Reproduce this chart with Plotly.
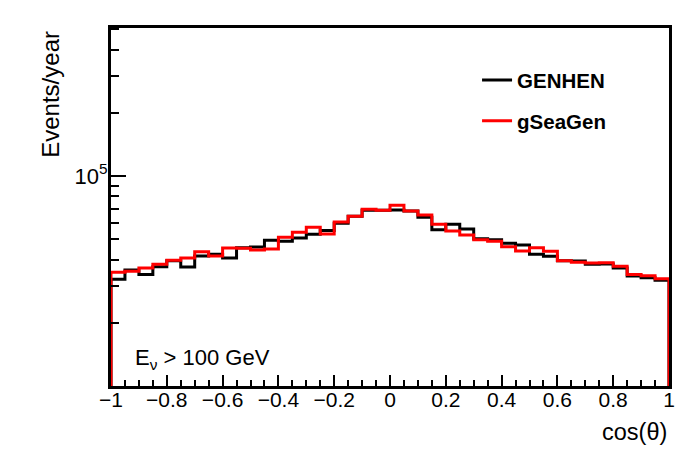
import plotly.graph_objects as go

# 40 bins in cos(theta) from -1 to 1
bin_edges = [-1 + 0.05 * i for i in range(41)]

genhen = [32200, 35700, 34000, 37000, 39500, 36900, 41600, 42400, 40700, 45600,
          45900, 49400, 48900, 50700, 52800, 55100, 59500, 64300, 68700, 68700,
          68900, 68100, 63600, 55500, 58900, 55900, 50300, 49700, 47800, 46900,
          42400, 41500, 39500, 39400, 38000, 38100, 36500, 33400, 32800, 31900]

gseagen = [34800, 35200, 36500, 38000, 39700, 40700, 43600, 41600, 45400, 45300,
           44400, 44900, 51100, 54000, 57000, 52900, 60400, 64300, 69400, 68700,
           72500, 68100, 65200, 58900, 54700, 52400, 49700, 48900, 46100, 43900,
           45600, 43800, 39500, 38800, 38500, 38600, 37200, 34000, 33500, 32400]

series_names = ["GENHEN", "gSeaGen"]
series_colors = ["#000000", "#ff0000"]

x_tick_vals = [-1, -0.8, -0.6, -0.4, -0.2, 0, 0.2, 0.4, 0.6, 0.8, 1]
x_tick_text = ["\u22121", "\u22120.8", "\u22120.6", "\u22120.4", "\u22120.2", "0",
               "0.2", "0.4", "0.6", "0.8", "1"]
y_tick_vals = [1e4, 1e5]
y_tick_text = ["", "10<sup>5</sup>"]
y_minor_vals = [k * 1e4 for k in range(2, 10)] + [k * 1e5 for k in range(2, 6)]

FLOOR = 1.0  # histogram drawn down from "zero" (clipped by the axis)


def step_xy(values):
    xs = [bin_edges[0]] + bin_edges + [bin_edges[-1]]
    ys = [FLOOR] + list(values) + [values[-1], FLOOR]
    return xs, ys


fig = go.Figure()
for name, vals, col in zip(series_names, [genhen, gseagen], series_colors):
    xs, ys = step_xy(vals)
    fig.add_trace(go.Scatter(
        x=xs, y=ys, mode="lines", name=name, legendgroup=name,
        line=dict(color=col, width=3, shape="hv"),
    ))

FONT = "Liberation Sans, Arial, Helvetica, sans-serif"

# the page body adds an 8 px offset, so the figure is drawn 8 px smaller
fig.update_layout(
    width=690, height=441,
    margin=dict(l=103, r=29, t=20, b=63),
    paper_bgcolor="white", plot_bgcolor="white",
    font=dict(family=FONT, size=20, color="black"),
    showlegend=True,
    legend=dict(
        x=0.656, y=0.91, xanchor="left", yanchor="top",
        bgcolor="rgba(0,0,0,0)", borderwidth=0,
        font=dict(family=FONT, size=20.5, color="black", weight="bold"),
        tracegroupgap=11,
    ),
    xaxis=dict(
        range=[-1, 1], showgrid=False, zeroline=False,
        showline=True, linecolor="black", linewidth=3, mirror=True,
        tickmode="array", tickvals=x_tick_vals, ticktext=x_tick_text,
        ticks="inside", ticklen=11, tickwidth=1.5, tickcolor="black",
        minor=dict(dtick=0.05, tick0=-1, ticks="inside", ticklen=6,
                   tickwidth=1.5, tickcolor="black"),
        tickfont=dict(family=FONT, size=21),
        ticklabelstandoff=-7,
    ),
    yaxis=dict(
        type="log", range=[4, 5.705], showgrid=False, zeroline=False,
        showline=True, linecolor="black", linewidth=3, mirror=True,
        tickmode="array", tickvals=y_tick_vals, ticktext=y_tick_text,
        ticks="inside", ticklen=15, tickwidth=1.5, tickcolor="black",
        minor=dict(tickmode="array", tickvals=y_minor_vals, ticks="inside",
                   ticklen=8, tickwidth=1.5, tickcolor="black"),
        tickfont=dict(family=FONT, size=22),
        ticklabelstandoff=-4,
    ),
    annotations=[
        dict(text="Events/year", xref="paper", yref="paper",
             x=-0.109, y=0.997, xanchor="center", yanchor="top",
             textangle=-90, showarrow=False,
             font=dict(family=FONT, size=24)),
        dict(text="cos(\u03b8)", xref="paper", yref="paper",
             x=1.0, y=-0.128, xanchor="right", yanchor="middle",
             showarrow=False, font=dict(family=FONT, size=23.5)),
        dict(text="E<sub>\u03bd</sub> > 100 GeV", xref="paper", yref="paper",
             x=0.039, y=0.075, xanchor="left", yanchor="middle",
             showarrow=False, font=dict(family=FONT, size=22)),
    ],
)

fig.write_html("out.html")
